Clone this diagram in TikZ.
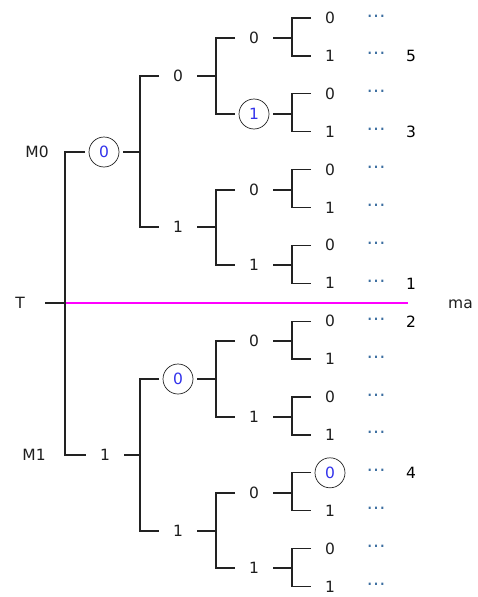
\documentclass[tikz,border=0pt]{standalone}
\usepackage{fontspec}
\setmainfont{DejaVu Sans}
\usetikzlibrary{positioning}
\definecolor{linegray}{RGB}{34,34,34}
\definecolor{labelgray}{RGB}{30,30,30}
\definecolor{ringblue}{RGB}{50,50,235}
\definecolor{dotblue}{RGB}{60,110,160}
\definecolor{splitpink}{RGB}{255,0,255}

\begin{document}
\begin{tikzpicture}[x=1pt,y=-1pt,
    lbl/.style={circle,minimum size=30pt,inner sep=0pt,outer sep=4pt,text=labelgray,
      text height=11pt,text depth=0pt,font=\fontsize{15.5}{18}\selectfont},
    ring/.style={lbl,draw=linegray,line width=0.7pt,text=ringblue},
    dots/.style={inner sep=0pt,text=dotblue,text height=11pt,text depth=0pt},
    link/.style={draw=linegray,line width=1.3pt}]
        \useasboundingbox (0,0) rectangle (478,597);
        \coordinate (bar0) at (65,0);
        \coordinate (bar1) at (140,0);
        \coordinate (bar2) at (216,0);
        \coordinate (bar3) at (292,0);
        % root and side labels
        \node[lbl,rectangle,minimum width=50pt,outer sep=0pt] (t) at (20,303) {T};
        \node[lbl] (m0) at (37,152) {M0};
        \node[lbl] (m1) at (34,455) {M1};
        \node[lbl,anchor=west,inner sep=0pt,minimum size=0pt,outer sep=0pt] (ma) at (447,303) {ma};
        \coordinate (mend) at (408,303);
        \draw[splitpink,line width=1.2pt] (t.east -| bar0) -- (mend);
        % first bits
        \node[ring] (a0) at (104,152) {0};
        \node[lbl] (a1) at (105,455) {1};
        % second bits
        \node[lbl] (b0) at (178,76) {0};
        \node[lbl] (b1) at (178,227) {1};
        \node[ring] (b2) at (178,379) {0};
        \node[lbl] (b3) at (178,531) {1};
        % third bits
        \node[lbl] (c0) at (254,38) {0};
        \node[ring] (c1) at (254,114) {1};
        \node[lbl] (c2) at (254,190) {0};
        \node[lbl] (c3) at (254,265) {1};
        \node[lbl] (c4) at (254,341) {0};
        \node[lbl] (c5) at (254,417) {1};
        \node[lbl] (c6) at (254,493) {0};
        \node[lbl] (c7) at (254,568) {1};
        % last bits with dots
        \foreach \n in {0,...,15}{
            \pgfmathtruncatemacro{\bit}{mod(\n,2)}
            \ifnum\n=12 \def\look{ring}\else\def\look{lbl}\fi
            \node[\look] (d\n) at (330,{18+37.9*\n}) {\bit};
            \node[dots] (e\n) at (376,{18+37.9*\n}) {\raisebox{6.5pt}{\fontsize{19}{19}\selectfont …}};
        }
        % ranks
        \node[lbl,text=black] (r5) at (411,56) {5};
        \node[lbl,text=black] (r3) at (411,132) {3};
        \node[lbl,text=black] (r1) at (411,284) {1};
        \node[lbl,text=black] (r2) at (411,322) {2};
        \node[lbl,text=black] (r4) at (411,473) {4};
        % connectors
        \draw[link] (a0.west) -| (t.east -| bar0) |- (a1.west) (t.east) -- (t.east -| bar0);
        \foreach \i in {0,1}{
            \pgfmathtruncatemacro{\ka}{2*\i}
            \pgfmathtruncatemacro{\kb}{2*\i+1}
            \draw[link] (b\ka.west) -| (a\i.east -| bar1) |- (b\kb.west) (a\i.east) -- (a\i.east -| bar1);
        }
        \foreach \i in {0,...,3}{
            \pgfmathtruncatemacro{\ka}{2*\i}
            \pgfmathtruncatemacro{\kb}{2*\i+1}
            \draw[link] (c\ka.west) -| (b\i.east -| bar2) |- (c\kb.west) (b\i.east) -- (b\i.east -| bar2);
        }
        \foreach \i in {0,...,7}{
            \pgfmathtruncatemacro{\ka}{2*\i}
            \pgfmathtruncatemacro{\kb}{2*\i+1}
            \draw[link] (d\ka.west) -| (c\i.east -| bar3) |- (d\kb.west) (c\i.east) -- (c\i.east -| bar3);
        }
    \end{tikzpicture}
\end{document}
